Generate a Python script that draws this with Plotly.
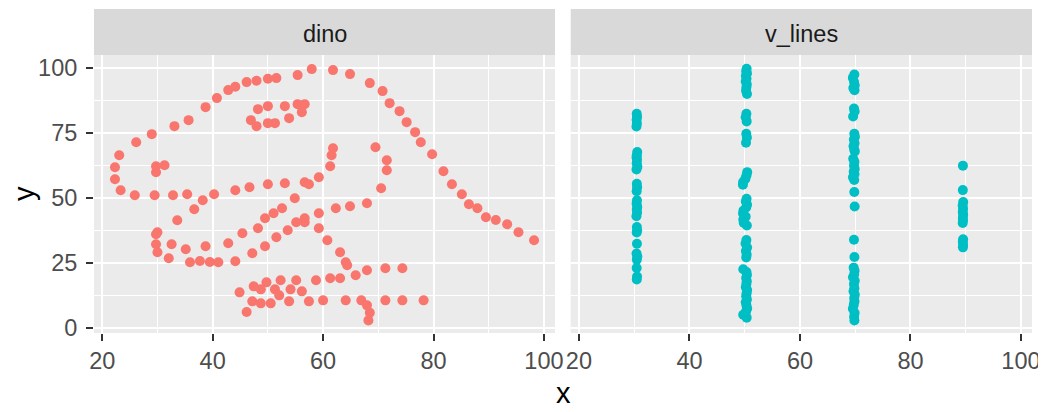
import plotly.graph_objects as go

# ---------------- data ----------------
dino_x = [55.3846, 51.5385, 46.1538, 42.8205, 40.7692, 38.7179, 35.6410, 33.0769, 28.9744, 26.1538,
          23.0769, 22.3077, 22.3077, 23.3333, 25.8974, 29.4872, 32.8205, 35.3846, 40.2564, 44.1026,
          46.6667, 50.0000, 53.0769, 56.6667, 59.2308, 61.2821, 61.5385, 61.7949, 57.4359, 54.8718,
          52.5641, 48.2051, 49.4872, 51.0256, 45.3846, 42.8205, 38.7179, 35.1282, 32.5641, 30.0000,
          33.5897, 36.6667, 38.2051, 29.7436, 29.7436, 30.0000, 32.0513, 35.8974, 41.0256, 44.1026,
          47.1795, 49.4872, 51.5385, 53.5897, 55.1282, 56.6667, 59.2308, 62.3077, 64.8718, 67.9487,
          70.5128, 71.5385, 71.5385, 69.4872, 46.9231, 48.2051, 50.0000, 53.0769, 55.3846, 56.6667,
          56.1538, 53.8462, 51.2821, 50.0000, 47.9487, 29.7436, 29.7436, 31.2821, 57.9487, 61.7949,
          64.8718, 68.4615, 70.7692, 72.0513, 73.8462, 75.1282, 76.6667, 77.6923, 79.7436, 81.7949,
          83.3333, 85.1282, 86.4103, 87.9487, 89.4872, 93.3333, 95.3846, 98.2051, 56.6667, 59.2308,
          60.7692, 63.0769, 64.1026, 64.3590, 74.3590, 71.2821, 67.9487, 65.8974, 63.0769, 61.2821,
          58.7179, 55.1282, 52.3077, 49.7436, 47.4359, 44.8718, 48.7179, 51.2821, 54.1026, 56.1538,
          52.0513, 48.7179, 47.1795, 46.1538, 50.5128, 53.8462, 57.4359, 60.0000, 64.1026, 66.9231,
          71.2821, 74.3590, 78.2051, 67.9487, 68.4615, 68.2051, 37.6923, 39.4872, 91.2821, 50.0000,
          47.9487, 44.1026]
dino_y = [97.1795, 96.0256, 94.4872, 91.4103, 88.3333, 84.8718, 79.8718, 77.5641, 74.4872, 71.4103,
          66.4103, 61.7949, 57.1795, 52.9487, 51.0256, 51.0256, 51.0256, 51.4103, 51.4103, 52.9487,
          54.1026, 55.2564, 55.6410, 56.0256, 57.9487, 62.1795, 66.4103, 69.1026, 55.2564, 49.8718,
          46.0256, 38.3333, 42.1795, 44.1026, 36.4103, 32.5641, 31.4103, 30.2564, 32.1795, 36.7949,
          41.4103, 45.6410, 49.1026, 36.0256, 32.1795, 29.1026, 26.7949, 25.2564, 25.2564, 25.6410,
          28.7180, 31.4103, 34.8718, 37.5641, 40.6410, 42.1795, 44.1026, 46.0256, 46.7949, 47.9487,
          53.7180, 60.6410, 64.4872, 69.4872, 79.8718, 84.1026, 85.2564, 85.2564, 86.0256, 86.0256,
          82.9487, 80.6410, 78.7180, 78.7180, 77.5641, 59.8718, 62.1795, 62.5641, 99.4872, 99.1026,
          97.5641, 94.1026, 91.0256, 86.4103, 83.3333, 79.1026, 75.2564, 71.4103, 66.7949, 60.2564,
          55.2564, 51.4103, 47.5641, 46.0256, 42.5641, 39.8718, 36.7949, 33.7180, 40.6410, 38.3333,
          33.7180, 29.1026, 25.2564, 24.1026, 22.9487, 22.9487, 22.1795, 20.2564, 19.1026, 19.1026,
          18.3333, 18.3333, 18.3333, 17.5641, 16.0256, 13.7180, 14.8718, 14.8718, 14.8718, 14.1026,
          12.5641, 9.4872, 10.2564, 6.1538, 9.4872, 10.2564, 10.2564, 10.6410, 10.6410, 10.6410,
          10.6410, 10.6410, 10.6410, 8.7180, 5.8974, 2.9487, 25.7692, 25.3846, 41.5385, 95.7692,
          95.0000, 92.6923]

v_lines_x = [
    # column near 30
    30.46, 30.52, 30.44, 30.49, 30.41, 30.55, 30.47, 30.43, 30.51, 30.46, 30.58, 30.42, 30.48, 30.53,
    30.45, 30.50, 30.44, 30.56, 30.47, 30.52, 30.41, 30.49, 30.54, 30.46, 30.50, 30.43, 30.57, 30.48,
    30.45, 30.52, 30.47,
    # column near 50
    50.35, 50.28, 50.41, 50.22, 50.33, 50.19, 50.38, 50.30, 50.25, 50.42, 50.31, 50.18, 50.36, 50.29,
    50.40, 50.24, 50.45, 50.32, 50.12, 49.72, 49.68, 50.34, 50.21, 50.43, 50.27, 49.78, 49.70, 50.18,
    49.75, 49.82, 50.39, 50.31, 50.15, 50.44, 50.22, 50.36, 50.28, 49.74, 50.33, 50.41, 50.26, 50.38,
    50.30, 50.21, 50.44, 50.35, 50.27, 50.40, 50.19, 50.32, 50.45, 50.24, 49.73, 50.36,
    # column near 70
    69.85, 69.58, 69.80, 69.92, 69.66, 69.88, 69.78, 69.90, 69.62, 69.84, 69.95, 69.76, 69.88, 69.70,
    69.82, 69.93, 69.64, 69.86, 69.79, 69.91, 69.73, 69.87, 69.60, 69.83, 69.84, 69.90, 69.78, 69.86,
    69.72, 69.89, 69.81, 69.60, 69.92, 69.77, 69.85, 69.70, 69.93, 69.82, 69.87, 69.74, 69.58, 69.90,
    69.80, 69.86,
    # column near 90
    89.50, 89.48, 89.55, 89.45, 89.52, 89.47, 89.54, 89.49, 89.51, 89.46, 89.53, 89.48, 89.52, 89.50,
]
v_lines_y = [
    82.3, 81.2, 80.0, 78.6, 77.4, 67.6, 66.4, 65.5, 64.6, 63.3, 62.0, 60.9, 55.4, 54.1,
    52.6, 49.1, 47.8, 46.5, 45.5, 44.3, 43.0, 38.8, 37.6, 36.7, 32.4, 28.6, 27.5, 26.3,
    23.1, 19.8, 18.7,
    99.6, 98.7, 97.8, 96.9, 95.8, 94.7, 93.6, 92.4, 91.2, 89.9, 82.3, 81.0, 79.4, 74.6,
    73.2, 71.2, 59.9, 58.6, 57.3, 56.1, 55.1, 49.7, 48.6, 47.4, 46.3, 45.1, 44.0, 42.8,
    41.7, 40.5, 39.4, 33.8, 32.5, 30.9, 29.6, 28.2, 27.1, 22.6, 21.5, 20.4, 19.2, 18.0,
    16.9, 15.7, 14.6, 13.4, 12.2, 11.0, 9.9, 8.7, 7.5, 6.3, 5.1, 4.0,
    97.4, 96.1, 94.5, 93.3, 92.2, 91.4, 84.3, 83.2, 81.3, 74.6, 73.5, 72.4, 71.0, 69.8,
    68.6, 67.8, 65.0, 63.9, 62.4, 61.1, 60.0, 59.1, 57.9, 56.9, 52.3, 46.7, 33.9, 27.3,
    23.2, 22.0, 20.6, 19.5, 18.2, 16.9, 15.3, 14.1, 12.8, 11.5, 10.2, 8.9, 7.4, 5.8,
    4.3, 2.9,
    62.4, 53.0, 48.4, 47.1, 45.8, 44.6, 43.5, 42.3, 41.3, 40.4, 34.1, 33.2, 32.0, 31.0,
]

panel_labels = ["dino", "v_lines"]
x_range = [18.51, 102.0]
y_range = [-1.9, 104.9]

# ---------------- figure ----------------
FONT = "Liberation Sans, Arial, sans-serif"
TICK_SIZE = 23.5
TITLE_SIZE = 29
fig = go.Figure()
fig.add_trace(go.Scatter(x=dino_x, y=dino_y, mode="markers", xaxis="x", yaxis="y",
                         marker=dict(color="#F8766D", size=10, line=dict(width=0)),
                         showlegend=False, hoverinfo="skip"))
fig.add_trace(go.Scatter(x=v_lines_x, y=v_lines_y, mode="markers", xaxis="x2", yaxis="y2",
                         marker=dict(color="#00BFC4", size=10, line=dict(width=0)),
                         showlegend=False, hoverinfo="skip"))

# page body has an 8px margin, so the figure is 8px smaller than the window on each axis
W, H = 1038, 404
ml, mr, mt, mb = 86, 14, 1, 79
pw, ph = W - ml - mr, H - mt - mb
x1_dom = [0, (547 - ml) / pw]
x2_dom = [(562.7 - ml) / pw, 1]
y_top = (325 - 47) / ph

xcommon = dict(range=x_range, tickmode="linear", tick0=0, dtick=20, automargin=False,
               showgrid=True, gridcolor="white", gridwidth=2,
               minor=dict(dtick=10, tick0=0, showgrid=True, gridcolor="white", gridwidth=1),
               ticks="outside", ticklen=7, tickwidth=2, tickcolor="#333333",
               tickfont=dict(family=FONT, size=TICK_SIZE, color="#4D4D4D"),
               zeroline=False, showline=False)
ycommon = dict(range=y_range, tickmode="linear", tick0=0, dtick=25, automargin=False,
               showgrid=True, gridcolor="white", gridwidth=2,
               minor=dict(dtick=12.5, tick0=0, showgrid=True, gridcolor="white", gridwidth=1),
               zeroline=False, showline=False, domain=[0, y_top])

fig.update_layout(
    width=W, height=H,
    margin=dict(l=ml, r=mr, t=mt, b=mb, autoexpand=False),
    paper_bgcolor="white", plot_bgcolor="#EBEBEB",
    xaxis=dict(domain=x1_dom, anchor="y", **xcommon),
    xaxis2=dict(domain=x2_dom, anchor="y2", **xcommon),
    yaxis=dict(anchor="x", ticks="outside", ticklen=7, tickwidth=2, tickcolor="#333333",
               ticklabelstandoff=4,
               tickfont=dict(family=FONT, size=TICK_SIZE, color="#4D4D4D"), **ycommon),
    yaxis2=dict(anchor="x2", ticks="", showticklabels=False, **ycommon),
)

# strips
for dom, lab in zip([x1_dom, x2_dom], panel_labels):
    fig.add_shape(type="rect", xref="paper", yref="paper", x0=dom[0], x1=dom[1], y0=y_top, y1=1,
                  fillcolor="#D9D9D9", line=dict(width=0), layer="below")
    fig.add_annotation(x=(dom[0] + dom[1]) / 2, y=(y_top + 1) / 2 - 0.005, xref="paper", yref="paper",
                       text=lab, showarrow=False, xanchor="center", yanchor="middle",
                       font=dict(family=FONT, size=TICK_SIZE, color="#1A1A1A"))

# axis titles
fig.add_annotation(x=(555 - ml) / pw, y=-(385 - 325) / ph, xref="paper", yref="paper", text="x",
                   showarrow=False, xanchor="center", yanchor="middle",
                   font=dict(family=FONT, size=TITLE_SIZE, color="black"))
fig.add_annotation(x=(16 - ml) / pw, y=(325 - 186) / ph, xref="paper", yref="paper", text="y",
                   showarrow=False, xanchor="center", yanchor="middle", textangle=-90,
                   font=dict(family=FONT, size=TITLE_SIZE, color="black"))

fig.write_html("out.html")
